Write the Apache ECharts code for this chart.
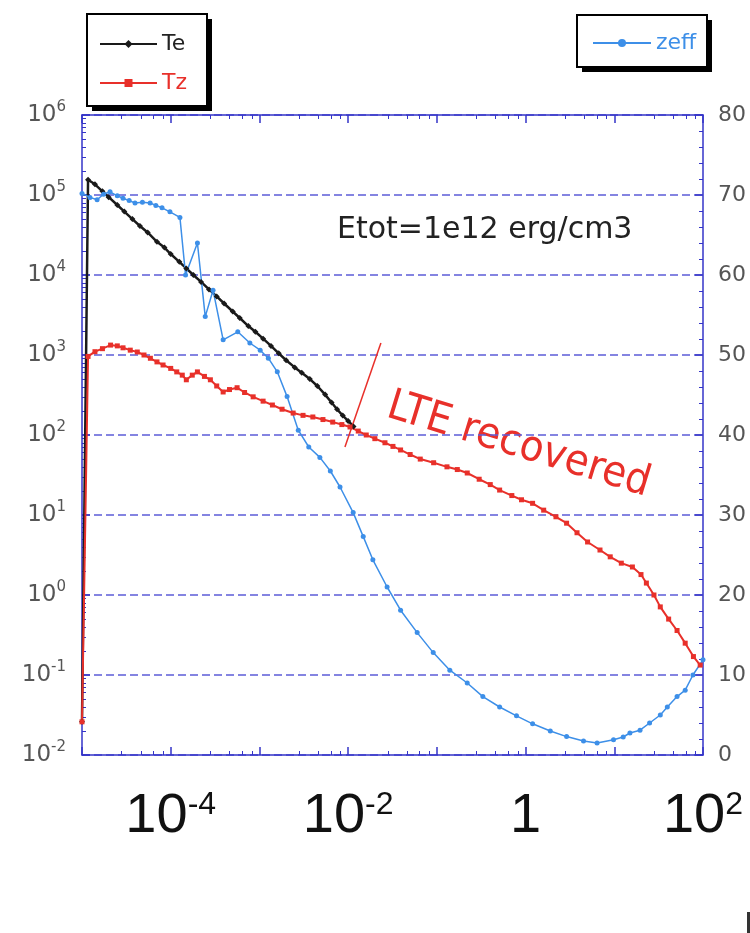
<!DOCTYPE html>
<html>
<head>
<meta charset="utf-8">
<title>Te / Tz / zeff</title>
<script src="https://cdn.jsdelivr.net/npm/echarts@6/dist/echarts.min.js"></script>
<style>
    html, body { margin: 0; padding: 0; background: #fff; }
    #chart { width: 750px; height: 933px; }
</style>
</head>
<body>
<div id="chart"></div>
<script>
// values (x is log, left y is log, right y linear)
const teX = [1.0e-5, 1.17e-5, 1.4e-5, 1.7e-5, 2.0e-5, 2.5e-5, 3.0e-5, 3.7e-5, 4.5e-5, 5.5e-5, 7.0e-5, 8.5e-5,
    1.0e-4, 1.25e-4, 1.5e-4, 1.8e-4, 2.2e-4, 2.7e-4, 3.3e-4, 4.0e-4, 5.0e-4, 6.0e-4, 7.5e-4, 9.0e-4,
    1.1e-3, 1.35e-3, 1.65e-3, 2.0e-3, 2.5e-3, 3.0e-3, 3.7e-3, 4.5e-3, 5.5e-3, 6.5e-3, 7.5e-3, 8.7e-3, 1.0e-2, 1.15e-2];
const teY = [0.026, 1.55e5, 1.36e5, 1.11e5, 9.4e4, 7.5e4, 6.2e4, 5.0e4, 4.1e4, 3.4e4, 2.6e4, 2.2e4,
    1.83e4, 1.46e4, 1.21e4, 1.0e4, 8.2e3, 6.6e3, 5.4e3, 4.4e3, 3.5e3, 2.9e3, 2.3e3, 1.95e3,
    1.6e3, 1.3e3, 1.05e3, 860, 700, 600, 500, 410, 320, 255, 210, 175, 150, 128];

const tzX = [1.0e-5, 1.17e-5, 1.4e-5, 1.7e-5, 2.1e-5, 2.5e-5, 2.9e-5, 3.5e-5, 4.2e-5, 5.0e-5, 5.9e-5, 7.0e-5, 8.2e-5,
    1.0e-4, 1.17e-4, 1.35e-4, 1.5e-4, 1.75e-4, 2.0e-4, 2.4e-4, 2.8e-4, 3.3e-4, 3.9e-4, 4.6e-4, 5.6e-4, 6.8e-4, 8.5e-4,
    1.1e-3, 1.4e-3, 1.8e-3, 2.4e-3, 3.1e-3, 4.0e-3, 5.2e-3, 6.7e-3, 8.5e-3, 1.05e-2, 1.3e-2, 1.6e-2, 2.0e-2, 2.6e-2,
    3.2e-2, 3.9e-2, 5.0e-2, 6.5e-2, 9.2e-2, 0.13, 0.17, 0.22, 0.3, 0.4, 0.51, 0.7, 0.9, 1.2, 1.6, 2.2, 2.9, 3.8, 5.0,
    6.9, 9.0, 12, 16, 20, 23, 28, 33, 41, 51, 63, 78, 93];
const tzY = [0.026, 960, 1100, 1200, 1330, 1300, 1230, 1150, 1090, 1000, 910, 820, 750,
    680, 615, 560, 490, 560, 615, 540, 490, 410, 345, 370, 390, 340, 300,
    265, 237, 210, 188, 176, 168, 156, 145, 135, 126, 112, 100, 90, 80,
    72, 65, 57, 50, 45, 40, 37, 33.5, 28, 24, 20.5, 17.5, 15.5, 14, 11.5, 9.5, 7.9, 6.0, 4.6,
    3.65, 3.0, 2.5, 2.24, 1.8, 1.41, 1.0, 0.71, 0.5, 0.36, 0.25, 0.17, 0.133];

const zeffX = [1.0e-5, 1.23e-5, 1.48e-5, 1.75e-5, 2.07e-5, 2.5e-5, 2.9e-5, 3.4e-5, 3.96e-5, 4.8e-5, 5.86e-5, 6.8e-5,
    7.98e-5, 9.8e-5, 1.27e-4, 1.47e-4, 2.0e-4, 2.45e-4, 3.0e-4, 3.9e-4, 5.7e-4, 7.8e-4, 1.02e-3, 1.26e-3, 1.59e-3,
    2.05e-3, 2.74e-3, 3.6e-3, 4.8e-3, 6.3e-3, 8.1e-3, 1.14e-2, 1.48e-2, 1.9e-2, 2.75e-2, 3.9e-2, 6.0e-2, 9.1e-2,
    0.14, 0.22, 0.33, 0.51, 0.79, 1.2, 1.9, 2.9, 4.5, 6.4, 9.8, 12.6, 15, 19.5, 25, 33, 39.6, 51, 63, 77, 100];
const zeffY = [70.2, 69.7, 69.4, 70.1, 70.4, 69.9, 69.6, 69.3, 69.0, 69.1, 69.0, 68.7,
    68.4, 67.9, 67.2, 60.0, 64.0, 54.8, 58.1, 51.9, 52.9, 51.5, 50.6, 49.6, 47.9,
    44.8, 40.6, 38.5, 37.2, 35.5, 33.5, 30.3, 27.3, 24.4, 21.0, 18.1, 15.3, 12.8,
    10.6, 9.0, 7.3, 6.0, 4.9, 3.9, 3.0, 2.3, 1.75, 1.5, 1.9, 2.25, 2.75, 3.1, 4.0, 5.0, 6.0, 7.3, 8.1, 10.0, 11.9];

// the hand-drawn red marker line at the LTE point
const lteMarkX = [9.2e-3, 2.34e-2];
const lteMarkY = [71, 1413];

// tick labels
const xLabelExps = [-4, -2, 0, 2];
const yLeftExps = [-2, -1, 0, 1, 2, 3, 4, 5, 6];
const yRightTicks = [0, 10, 20, 30, 40, 50, 60, 70, 80];

const axisBlue = "#3434c8";
const gridBlue = "#5c5cd8";
const red = "#e8302a";
const blue = "#3d8fe8";
const black = "#1a1a1a";

const pairs = (xs, ys) => xs.map((x, i) => [x, ys[i]]);
const expOf = v => Math.round(Math.log10(v));

const chart = echarts.init(document.getElementById("chart"), null, { renderer: "canvas" });

const frameAxis = {
    axisLine: { show: true, onZero: false, lineStyle: { color: axisBlue, width: 1.5 } },
    axisTick: { show: true, inside: true, length: 8, lineStyle: { color: axisBlue, width: 1.5 } },
    minorTick: { show: true, length: 4, lineStyle: { color: axisBlue, width: 1 } }
};

// legend boxes (with the hard black drop shadow) are drawn as plain rects
const legendBox = (x, y, w, h) => [
    { type: "rect", z: 1, shape: { x: x + 5, y: y + 5, width: w, height: h }, style: { fill: "#000" } },
    { type: "rect", z: 2, shape: { x: x, y: y, width: w, height: h }, style: { fill: "#fff", stroke: "#000", lineWidth: 2 } }
];

const option = {
    animation: false,
    backgroundColor: "#fff",
    grid: { left: 82, right: 47, top: 115, bottom: 178 },
    legend: [
        {
            data: [
                { name: "Te", textStyle: { color: "#222" } },
                { name: "Tz", textStyle: { color: red } }
            ],
            z: 10,
            orient: "vertical",
            left: 87,
            top: 14,
            itemWidth: 57,
            itemHeight: 10,
            itemGap: 17,
            padding: [19, 18, 12, 12],
            selectedMode: false,
            textStyle: { fontSize: 22, fontFamily: "DejaVu Sans" }
        },
        {
            data: [{ name: "zeff", textStyle: { color: blue } }],
            z: 10,
            left: 577,
            top: 15,
            itemWidth: 58,
            itemHeight: 10,
            padding: [17, 11, 11, 15],
            selectedMode: false,
            textStyle: { fontSize: 22, fontFamily: "DejaVu Sans" }
        }
    ],
    xAxis: [
        {
            type: "log",
            logBase: 10,
            min: 1e-5,
            max: 1e2,
            splitNumber: 7,
            position: "bottom",
            ...frameAxis,
            splitLine: { show: false },
            axisLabel: {
                margin: 34,
                formatter: v => {
                    const e = expOf(v);
                    if (!xLabelExps.includes(e)) return "";
                    if (e === 0) return "{b|1}";
                    return "{b|10}{s|" + e + "}";
                },
                rich: {
                    b: { fontSize: 56, fontFamily: "Liberation Sans", color: "#111" },
                    s: { fontSize: 32, fontFamily: "Liberation Sans", color: "#111", padding: [0, 0, 24, 0] }
                }
            }
        },
        {
            type: "log",
            logBase: 10,
            min: 1e-5,
            max: 1e2,
            splitNumber: 7,
            position: "top",
            ...frameAxis,
            splitLine: { show: false },
            axisLabel: { show: false }
        }
    ],
    yAxis: [
        {
            type: "log",
            logBase: 10,
            min: 1e-2,
            max: 1e6,
            splitNumber: 8,
            position: "left",
            ...frameAxis,
            minorTick: { show: true, splitNumber: 9, length: 4, lineStyle: { color: axisBlue, width: 1 } },
            splitLine: { show: true, lineStyle: { color: gridBlue, type: [8, 4], width: 1.5 } },
            axisLabel: {
                margin: 16,
                formatter: v => {
                    const e = expOf(v);
                    if (!yLeftExps.includes(e)) return "";
                    return "{b|10}{s|" + e + "}";
                },
                rich: {
                    b: { fontSize: 23, fontFamily: "DejaVu Sans", color: "#555" },
                    s: { fontSize: 15, fontFamily: "DejaVu Sans", color: "#555", padding: [0, 0, 16, 0] }
                }
            }
        },
        {
            type: "value",
            min: 0,
            max: 80,
            interval: 10,
            position: "right",
            ...frameAxis,
            minorTick: { show: true, splitNumber: 5, length: 4, lineStyle: { color: axisBlue, width: 1 } },
            splitLine: { show: false },
            axisLabel: {
                margin: 15,
                fontSize: 22,
                fontFamily: "DejaVu Sans",
                color: "#555",
                formatter: v => (yRightTicks.includes(v) ? String(v) : "")
            }
        }
    ],
    series: [
        {
            name: "Te",
            type: "line",
            xAxisIndex: 0,
            yAxisIndex: 0,
            data: pairs(teX, teY),
            symbol: "diamond",
            symbolSize: 6,
            lineStyle: { color: black, width: 2.5 },
            itemStyle: { color: black }
        },
        {
            name: "Tz",
            type: "line",
            xAxisIndex: 0,
            yAxisIndex: 0,
            data: pairs(tzX, tzY),
            symbol: "rect",
            symbolSize: 5,
            lineStyle: { color: red, width: 2 },
            itemStyle: { color: red }
        },
        {
            name: "zeff",
            type: "line",
            xAxisIndex: 0,
            yAxisIndex: 1,
            data: pairs(zeffX, zeffY),
            symbol: "circle",
            symbolSize: 5,
            lineStyle: { color: blue, width: 1.5 },
            itemStyle: { color: blue }
        },
        {
            name: "lteMark",
            type: "line",
            xAxisIndex: 0,
            yAxisIndex: 0,
            data: pairs(lteMarkX, lteMarkY),
            symbol: "none",
            lineStyle: { color: red, width: 1.5 },
            silent: true
        }
    ],
    graphic: [
        ...legendBox(87, 14, 120, 92),
        ...legendBox(577, 15, 130, 52),
        {
            type: "text",
            x: 337,
            y: 230,
            style: {
                text: "Etot=1e12 erg/cm3",
                fontSize: 30,
                fontFamily: "DejaVu Sans",
                fill: "#222",
                verticalAlign: "middle"
            }
        },
        {
            type: "text",
            x: 382,
            y: 426,
            rotation: -17 * Math.PI / 180,
            scaleY: 1.1,
            style: {
                text: "LTE recovered",
                fontSize: 39,
                fontFamily: "DejaVu Sans",
                fill: red,
                verticalAlign: "bottom"
            }
        },
        {
            // stray mark at the bottom-right corner of the original picture
            type: "rect",
            shape: { x: 747, y: 912, width: 3, height: 21 },
            style: { fill: "#333" }
        }
    ]
};

chart.setOption(option);
</script>
</body>
</html>
